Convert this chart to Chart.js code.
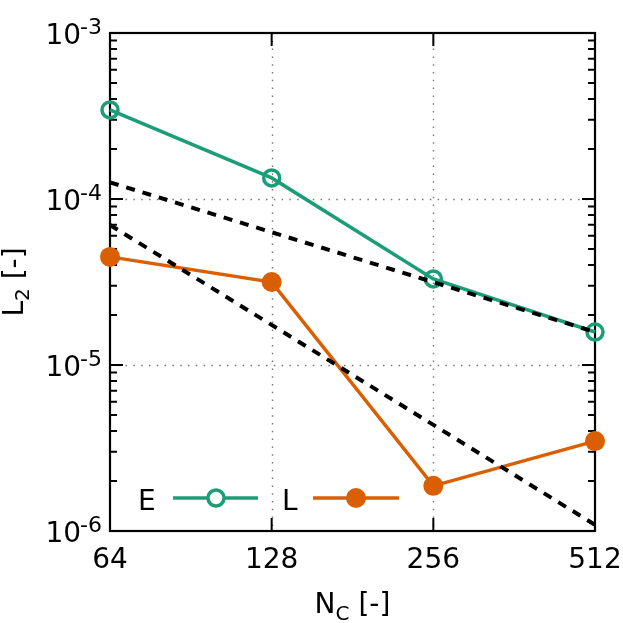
<!DOCTYPE html>
<html>
<head>
<meta charset="utf-8">
<script src="https://cdn.jsdelivr.net/npm/chart.js@4/dist/chart.umd.min.js"></script>
<style>
html,body{margin:0;padding:0;background:#fff;}
#wrap{width:623px;height:623px;position:relative;}
</style>
</head>
<body>
<div id="wrap"><canvas id="c" width="623" height="623"></canvas></div>
<script>
// ---- data ----
const categories = [64, 128, 256, 512];
const seriesE = [3.44e-4, 1.34e-4, 3.3e-5, 1.58e-5];
const seriesL = [4.48e-5, 3.16e-5, 1.87e-6, 3.48e-6];
const refX = [64, 512];
const refOrder1 = [1.26e-4, 1.58e-5];
const refOrder2 = [6.97e-5, 1.09e-6];
const xTickLabels = ['64', '128', '256', '512'];
const yTickExponents = [-6, -5, -4, -3];
const seriesNames = ['E', 'L'];

const GREEN = '#1b9e77', ORANGE = '#d95f02';
const FONT = '"DejaVu Sans", sans-serif';

function pts(xs, ys) { return xs.map((x, i) => ({x: x, y: ys[i]})); }

const framePlugin = {
  id: 'frame',
  beforeDatasetsDraw(chart) {
    const ctx = chart.ctx, a = chart.chartArea;
    const xs = chart.scales.x, ys = chart.scales.y;
    ctx.save();
    // grid (dotted)
    ctx.strokeStyle = '#777';
    ctx.lineWidth = 1.4;
    ctx.setLineDash([1.5, 6.3]);
    categories.slice(1, -1).forEach(v => {
      const px = Math.round(xs.getPixelForValue(v)) + 0.5;
      ctx.beginPath(); ctx.moveTo(px, a.top); ctx.lineTo(px, a.bottom); ctx.stroke();
    });
    yTickExponents.slice(1, -1).forEach(e => {
      const py = Math.round(ys.getPixelForValue(Math.pow(10, e))) + 0.5;
      ctx.beginPath(); ctx.moveTo(a.left, py); ctx.lineTo(a.right, py); ctx.stroke();
    });
    ctx.setLineDash([]);
    // ticks
    ctx.strokeStyle = '#000';
    ctx.lineWidth = 2;
    const major = 13, minor = 7;
    categories.forEach(v => {
      const px = xs.getPixelForValue(v);
      ctx.beginPath();
      ctx.moveTo(px, a.bottom); ctx.lineTo(px, a.bottom - major);
      ctx.moveTo(px, a.top); ctx.lineTo(px, a.top + major);
      ctx.stroke();
    });
    yTickExponents.forEach((e, i) => {
      const base = Math.pow(10, e);
      const py = ys.getPixelForValue(base);
      ctx.beginPath();
      ctx.moveTo(a.left, py); ctx.lineTo(a.left + major, py);
      ctx.moveTo(a.right, py); ctx.lineTo(a.right - major, py);
      ctx.stroke();
      if (i < yTickExponents.length - 1) {
        for (let m = 2; m <= 9; m++) {
          const pm = ys.getPixelForValue(base * m);
          ctx.beginPath();
          ctx.moveTo(a.left, pm); ctx.lineTo(a.left + minor, pm);
          ctx.moveTo(a.right, pm); ctx.lineTo(a.right - minor, pm);
          ctx.stroke();
        }
      }
    });
    // frame
    ctx.lineWidth = 2.2;
    ctx.strokeRect(a.left, a.top, a.right - a.left, a.bottom - a.top);
    ctx.restore();
  },
  afterDatasetsDraw(chart) {
    const ctx = chart.ctx, a = chart.chartArea;
    const xs = chart.scales.x, ys = chart.scales.y;
    ctx.save();
    ctx.fillStyle = '#000';
    ctx.textBaseline = 'alphabetic';
    // x tick labels
    ctx.font = '28px ' + FONT;
    ctx.textAlign = 'center';
    categories.forEach((v, i) => {
      ctx.fillText(xTickLabels[i], xs.getPixelForValue(v), a.bottom + 37);
    });
    // y tick labels 10^e
    ctx.textAlign = 'left';
    yTickExponents.forEach(e => {
      const py = ys.getPixelForValue(Math.pow(10, e));
      const sup = '-' + Math.abs(e);
      ctx.font = '22px ' + FONT;
      const w2 = ctx.measureText(sup).width;
      ctx.font = '28px ' + FONT;
      const w1 = ctx.measureText('10').width;
      const right = a.left - 8;
      ctx.fillText('10', right - w2 - w1 + 1, py + 11);
      ctx.font = '22px ' + FONT;
      ctx.fillText(sup, right - w2, py + 1);
    });
    // x title N_C [-]
    {
      ctx.font = '28px ' + FONT;
      const wN = ctx.measureText('N').width;
      const wR = ctx.measureText(' [-]').width;
      ctx.font = '20px ' + FONT;
      const wC = ctx.measureText('C').width;
      const cx = (a.left + a.right) / 2;
      let x = cx - (wN + wC + wR) / 2;
      const base = 613;
      ctx.font = '28px ' + FONT; ctx.fillText('N', x, base); x += wN;
      ctx.font = '20px ' + FONT; ctx.fillText('C', x, base + 7); x += wC;
      ctx.font = '28px ' + FONT; ctx.fillText(' [-]', x, base);
    }
    // y title L_2 [-]
    {
      ctx.save();
      ctx.translate(0, (a.top + a.bottom) / 2);
      ctx.rotate(-Math.PI / 2);
      ctx.font = '28px ' + FONT;
      const wL = ctx.measureText('L').width;
      const wR = ctx.measureText(' [-]').width;
      ctx.font = '20px ' + FONT;
      const w2 = ctx.measureText('2').width;
      let x = -(wL + w2 + wR) / 2;
      const base = 23;
      ctx.font = '28px ' + FONT; ctx.fillText('L', x, base); x += wL;
      ctx.font = '20px ' + FONT; ctx.fillText('2', x, base + 6); x += w2;
      ctx.font = '28px ' + FONT; ctx.fillText(' [-]', x, base);
      ctx.restore();
    }
    // legend
    {
      const ly = 498;
      ctx.font = '28px ' + FONT;
      ctx.textAlign = 'left';
      ctx.fillText(seriesNames[0], 138, 510);
      ctx.strokeStyle = GREEN; ctx.lineWidth = 3.5;
      ctx.beginPath(); ctx.moveTo(173, ly); ctx.lineTo(258, ly); ctx.stroke();
      ctx.fillStyle = '#fff';
      ctx.beginPath(); ctx.arc(216, ly, 8, 0, Math.PI * 2); ctx.fill(); ctx.stroke();
      ctx.fillStyle = '#000';
      ctx.fillText(seriesNames[1], 282, 510);
      ctx.strokeStyle = ORANGE; ctx.fillStyle = ORANGE;
      ctx.beginPath(); ctx.moveTo(313, ly); ctx.lineTo(399, ly); ctx.stroke();
      ctx.beginPath(); ctx.arc(356, ly, 10, 0, Math.PI * 2); ctx.fill();
    }
    ctx.restore();
  }
};

new Chart(document.getElementById('c'), {
  type: 'line',
  data: {
    datasets: [
      {label: 'ref1', data: pts(refX, refOrder1), borderColor: '#000', borderWidth: 4,
       borderDash: [9, 8], pointRadius: 0, fill: false, order: 1, clip: false},
      {label: 'ref2', data: pts(refX, refOrder2), borderColor: '#000', borderWidth: 4,
       borderDash: [9, 8], pointRadius: 0, fill: false, order: 1, clip: false},
      {label: seriesNames[0], data: pts(categories, seriesE), borderColor: GREEN, borderWidth: 3.5,
       pointRadius: 8, pointBorderWidth: 3.5, pointBackgroundColor: 'rgba(0,0,0,0)',
       pointBorderColor: GREEN, fill: false, order: 2, clip: false},
      {label: seriesNames[1], data: pts(categories, seriesL), borderColor: ORANGE, borderWidth: 3.5,
       pointRadius: 10, pointBorderWidth: 0, pointBackgroundColor: ORANGE,
       pointBorderColor: ORANGE, fill: false, order: 3, clip: false}
    ]
  },
  options: {
    responsive: false,
    animation: false,
    layout: {padding: {left: 110, top: 33, right: 28, bottom: 92}},
    plugins: {legend: {display: false}, tooltip: {enabled: false}},
    events: [],
    scales: {
      x: {type: 'logarithmic', min: 64, max: 512, display: false},
      y: {type: 'logarithmic', min: 1e-6, max: 1e-3, display: false}
    }
  },
  plugins: [framePlugin]
});
</script>
</body>
</html>
